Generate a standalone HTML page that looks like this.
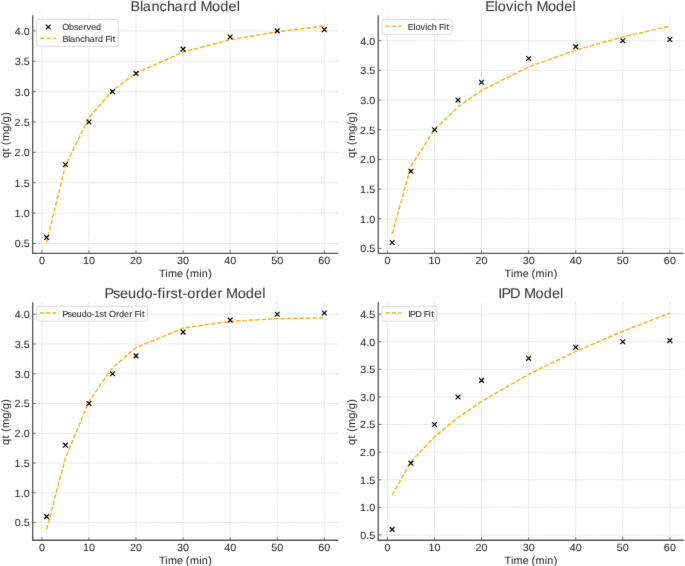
<!DOCTYPE html>
<html><head><meta charset="utf-8"><style>
html,body{margin:0;padding:0;background:#fff;}
svg{display:block;will-change:transform;text-rendering:geometricPrecision;font-family:"Liberation Sans",sans-serif;}
</style></head><body>
<svg width="685" height="566" viewBox="0 0 685 566">
<defs><filter id="bl" x="0" y="0" width="685" height="566" filterUnits="userSpaceOnUse" color-interpolation-filters="sRGB"><feConvolveMatrix order="3" kernelMatrix="0.00524 0.06192 0.00524 0.06192 0.73137 0.06192 0.00524 0.06192 0.00524" divisor="1" edgeMode="none"/></filter></defs>
<rect width="685" height="566" fill="#fff"/>
<g filter="url(#bl)">
<path d="M41.88 15.30V253.35M88.95 15.30V253.35M136.02 15.30V253.35M183.10 15.30V253.35M230.17 15.30V253.35M277.24 15.30V253.35M324.31 15.30V253.35M32.70 243.48H338.20M32.70 213.11H338.20M32.70 182.74H338.20M32.70 152.37H338.20M32.70 122.00H338.20M32.70 91.63H338.20M32.70 61.26H338.20M32.70 30.89H338.20" stroke="#d4d4d4" stroke-width="0.8" stroke-dasharray="1.6 0.95" fill="none"/>
<polyline points="46.59,242.53 65.42,165.59 88.95,117.61 112.49,90.53 136.02,73.13 183.10,52.09 230.17,39.82 277.24,31.79 324.31,26.12" stroke="#FFAA10" stroke-width="1.4" stroke-dasharray="4.44 1.92" fill="none"/>
<path d="M44.19 235.01L48.99 239.81M44.19 239.81L48.99 235.01M63.02 162.12L67.82 166.92M63.02 166.92L67.82 162.12M86.55 119.60L91.35 124.40M86.55 124.40L91.35 119.60M110.09 89.23L114.89 94.03M110.09 94.03L114.89 89.23M133.62 71.01L138.42 75.81M133.62 75.81L138.42 71.01M180.70 46.71L185.50 51.51M180.70 51.51L185.50 46.71M227.77 34.56L232.57 39.36M227.77 39.36L232.57 34.56M274.84 28.49L279.64 33.29M274.84 33.29L279.64 28.49M321.91 27.27L326.71 32.07M321.91 32.07L326.71 27.27" stroke="#000" stroke-width="1.2" fill="none"/>
<path d="M32.70 15.30V253.35H338.20" stroke="#555555" stroke-width="1.3" fill="none" stroke-linecap="butt" stroke-linejoin="miter"/>
<path d="M41.88 253.35v-3M88.95 253.35v-3M136.02 253.35v-3M183.10 253.35v-3M230.17 253.35v-3M277.24 253.35v-3M324.31 253.35v-3M32.70 243.48h3M32.70 213.11h3M32.70 182.74h3M32.70 152.37h3M32.70 122.00h3M32.70 91.63h3M32.70 61.26h3M32.70 30.89h3" stroke="#555555" stroke-width="0.8" fill="none"/>
<text x="-2.91" y="0" font-size="10.45" fill="#282828" stroke="#282828" stroke-width="0.06" transform="translate(41.88 264.35) scale(1.03 1)">0</text>
<text x="-5.90 0.03" y="0" font-size="10.45" fill="#282828" stroke="#282828" stroke-width="0.06" transform="translate(88.95 264.35) scale(1.03 1)">10</text>
<text x="-5.96 0.03" y="0" font-size="10.45" fill="#282828" stroke="#282828" stroke-width="0.06" transform="translate(136.02 264.35) scale(1.03 1)">20</text>
<text x="-5.83 0.03" y="0" font-size="10.45" fill="#282828" stroke="#282828" stroke-width="0.06" transform="translate(183.10 264.35) scale(1.03 1)">30</text>
<text x="-5.84 0.03" y="0" font-size="10.45" fill="#282828" stroke="#282828" stroke-width="0.06" transform="translate(230.17 264.35) scale(1.03 1)">40</text>
<text x="-5.88 0.03" y="0" font-size="10.45" fill="#282828" stroke="#282828" stroke-width="0.06" transform="translate(277.24 264.35) scale(1.03 1)">50</text>
<text x="-5.84 0.03" y="0" font-size="10.45" fill="#282828" stroke="#282828" stroke-width="0.06" transform="translate(324.31 264.35) scale(1.03 1)">60</text>
<text x="-14.64 -8.79 -5.88" y="0" font-size="10.45" fill="#282828" stroke="#282828" stroke-width="0.06" transform="translate(29.70 247.38) scale(1.03 1)">0.5</text>
<text x="-14.70 -8.79 -5.84" y="0" font-size="10.45" fill="#282828" stroke="#282828" stroke-width="0.06" transform="translate(29.70 217.01) scale(1.03 1)">1.0</text>
<text x="-14.70 -8.79 -5.88" y="0" font-size="10.45" fill="#282828" stroke="#282828" stroke-width="0.06" transform="translate(29.70 186.64) scale(1.03 1)">1.5</text>
<text x="-14.76 -8.79 -5.84" y="0" font-size="10.45" fill="#282828" stroke="#282828" stroke-width="0.06" transform="translate(29.70 156.27) scale(1.03 1)">2.0</text>
<text x="-14.76 -8.79 -5.88" y="0" font-size="10.45" fill="#282828" stroke="#282828" stroke-width="0.06" transform="translate(29.70 125.90) scale(1.03 1)">2.5</text>
<text x="-14.63 -8.79 -5.84" y="0" font-size="10.45" fill="#282828" stroke="#282828" stroke-width="0.06" transform="translate(29.70 95.53) scale(1.03 1)">3.0</text>
<text x="-14.63 -8.79 -5.88" y="0" font-size="10.45" fill="#282828" stroke="#282828" stroke-width="0.06" transform="translate(29.70 65.16) scale(1.03 1)">3.5</text>
<text x="-14.64 -8.79 -5.84" y="0" font-size="10.45" fill="#282828" stroke="#282828" stroke-width="0.06" transform="translate(29.70 34.79) scale(1.03 1)">4.0</text>
<text x="-25.70 -19.53 -16.92 -8.10 -2.33 0.39 4.38 13.38 15.86 22.03" y="0" font-size="10.51" fill="#282828" stroke="#282828" stroke-width="0.06" transform="translate(185.45 276.85) scale(1.03 1)">Time (min)</text>
<text x="-22.19 -15.84 -12.47 -9.70 -5.65 3.33 9.44 12.48 18.82" y="0" font-size="10.67" fill="#282828" stroke="#282828" stroke-width="0.06" transform="translate(9.20 135.23) rotate(-90) scale(1.03 1)">qt (mg/g)</text>
<text x="-53.43 -44.16 -41.36 -32.94 -25.23 -17.97 -10.57 -1.79 2.97 11.03 14.60 25.89 33.72 41.73 49.72" y="0" font-size="14.09" fill="#383838" stroke="#383838" stroke-width="0.06" transform="translate(185.45 10.90) scale(1.03 1)">Blanchard Model</text>
<rect x="36.60" y="19.40" width="81.73" height="27.00" rx="2" ry="2" fill="#fff" fill-opacity="0.8" stroke="#d0d0d0" stroke-width="0.8"/>
<path d="M45.80 24.55L50.60 29.35M45.80 29.35L50.60 24.55" stroke="#000" stroke-width="1.2"/>
<text x="-0.36 6.17 10.92 15.05 20.13 23.16 27.62 32.42" y="0" font-size="8.80" fill="#282828" stroke="#282828" stroke-width="0.06" transform="translate(62.70 29.90) scale(1.03 1)">Observed</text>
<path d="M39.80 38.40H56.00" stroke="#FFAA10" stroke-width="1.4" stroke-dasharray="4.44 1.92"/>
<text x="-0.29 5.43 7.11 12.28 17.01 21.46 25.99 31.39 34.29 39.26 41.23 46.29 48.62" y="0" font-size="8.80" fill="#282828" stroke="#282828" stroke-width="0.06" transform="translate(62.70 41.75) scale(1.03 1)">Blanchard Fit</text>
<path d="M387.43 15.30V253.35M434.50 15.30V253.35M481.57 15.30V253.35M528.65 15.30V253.35M575.72 15.30V253.35M622.79 15.30V253.35M669.86 15.30V253.35M378.25 248.47H683.75M378.25 218.79H683.75M378.25 189.11H683.75M378.25 159.43H683.75M378.25 129.75H683.75M378.25 100.07H683.75M378.25 70.39H683.75M378.25 40.71H683.75" stroke="#d4d4d4" stroke-width="0.8" stroke-dasharray="1.6 0.95" fill="none"/>
<polyline points="392.14,234.03 410.97,166.36 434.50,129.54 458.04,106.86 481.57,90.43 528.65,66.93 575.72,50.07 622.79,36.91 669.86,26.12" stroke="#FFAA10" stroke-width="1.4" stroke-dasharray="4.44 1.92" fill="none"/>
<path d="M389.74 240.13L394.54 244.93M389.74 244.93L394.54 240.13M408.57 168.90L413.37 173.70M408.57 173.70L413.37 168.90M432.10 127.35L436.90 132.15M432.10 132.15L436.90 127.35M455.64 97.67L460.44 102.47M455.64 102.47L460.44 97.67M479.17 79.86L483.97 84.66M479.17 84.66L483.97 79.86M526.25 56.12L531.05 60.92M526.25 60.92L531.05 56.12M573.32 44.25L578.12 49.05M573.32 49.05L578.12 44.25M620.39 38.31L625.19 43.11M620.39 43.11L625.19 38.31M667.46 37.12L672.26 41.92M667.46 41.92L672.26 37.12" stroke="#000" stroke-width="1.2" fill="none"/>
<path d="M378.25 15.30V253.35H683.75" stroke="#555555" stroke-width="1.3" fill="none" stroke-linecap="butt" stroke-linejoin="miter"/>
<path d="M387.43 253.35v-3M434.50 253.35v-3M481.57 253.35v-3M528.65 253.35v-3M575.72 253.35v-3M622.79 253.35v-3M669.86 253.35v-3M378.25 248.47h3M378.25 218.79h3M378.25 189.11h3M378.25 159.43h3M378.25 129.75h3M378.25 100.07h3M378.25 70.39h3M378.25 40.71h3" stroke="#555555" stroke-width="0.8" fill="none"/>
<text x="-2.91" y="0" font-size="10.45" fill="#282828" stroke="#282828" stroke-width="0.06" transform="translate(387.43 264.35) scale(1.03 1)">0</text>
<text x="-5.90 0.03" y="0" font-size="10.45" fill="#282828" stroke="#282828" stroke-width="0.06" transform="translate(434.50 264.35) scale(1.03 1)">10</text>
<text x="-5.96 0.03" y="0" font-size="10.45" fill="#282828" stroke="#282828" stroke-width="0.06" transform="translate(481.57 264.35) scale(1.03 1)">20</text>
<text x="-5.83 0.03" y="0" font-size="10.45" fill="#282828" stroke="#282828" stroke-width="0.06" transform="translate(528.65 264.35) scale(1.03 1)">30</text>
<text x="-5.84 0.03" y="0" font-size="10.45" fill="#282828" stroke="#282828" stroke-width="0.06" transform="translate(575.72 264.35) scale(1.03 1)">40</text>
<text x="-5.88 0.03" y="0" font-size="10.45" fill="#282828" stroke="#282828" stroke-width="0.06" transform="translate(622.79 264.35) scale(1.03 1)">50</text>
<text x="-5.84 0.03" y="0" font-size="10.45" fill="#282828" stroke="#282828" stroke-width="0.06" transform="translate(669.86 264.35) scale(1.03 1)">60</text>
<text x="-14.64 -8.79 -5.88" y="0" font-size="10.45" fill="#282828" stroke="#282828" stroke-width="0.06" transform="translate(375.25 252.37) scale(1.03 1)">0.5</text>
<text x="-14.70 -8.79 -5.84" y="0" font-size="10.45" fill="#282828" stroke="#282828" stroke-width="0.06" transform="translate(375.25 222.69) scale(1.03 1)">1.0</text>
<text x="-14.70 -8.79 -5.88" y="0" font-size="10.45" fill="#282828" stroke="#282828" stroke-width="0.06" transform="translate(375.25 193.01) scale(1.03 1)">1.5</text>
<text x="-14.76 -8.79 -5.84" y="0" font-size="10.45" fill="#282828" stroke="#282828" stroke-width="0.06" transform="translate(375.25 163.33) scale(1.03 1)">2.0</text>
<text x="-14.76 -8.79 -5.88" y="0" font-size="10.45" fill="#282828" stroke="#282828" stroke-width="0.06" transform="translate(375.25 133.65) scale(1.03 1)">2.5</text>
<text x="-14.63 -8.79 -5.84" y="0" font-size="10.45" fill="#282828" stroke="#282828" stroke-width="0.06" transform="translate(375.25 103.97) scale(1.03 1)">3.0</text>
<text x="-14.63 -8.79 -5.88" y="0" font-size="10.45" fill="#282828" stroke="#282828" stroke-width="0.06" transform="translate(375.25 74.29) scale(1.03 1)">3.5</text>
<text x="-14.64 -8.79 -5.84" y="0" font-size="10.45" fill="#282828" stroke="#282828" stroke-width="0.06" transform="translate(375.25 44.61) scale(1.03 1)">4.0</text>
<text x="-25.70 -19.53 -16.92 -8.10 -2.33 0.39 4.38 13.38 15.86 22.03" y="0" font-size="10.51" fill="#282828" stroke="#282828" stroke-width="0.06" transform="translate(531.00 276.85) scale(1.03 1)">Time (min)</text>
<text x="-22.19 -15.84 -12.47 -9.70 -5.65 3.33 9.44 12.48 18.82" y="0" font-size="10.67" fill="#282828" stroke="#282828" stroke-width="0.06" transform="translate(354.75 135.23) rotate(-90) scale(1.03 1)">qt (mg/g)</text>
<text x="-44.44 -35.48 -32.19 -24.18 -16.70 -13.58 -6.32 1.67 5.24 16.53 24.36 32.37 40.35" y="0" font-size="14.09" fill="#383838" stroke="#383838" stroke-width="0.06" transform="translate(531.00 10.90) scale(1.03 1)">Elovich Model</text>
<rect x="382.15" y="19.40" width="69.90" height="14.85" rx="2" ry="2" fill="#fff" fill-opacity="0.8" stroke="#d0d0d0" stroke-width="0.8"/>
<path d="M385.35 26.15H401.55" stroke="#FFAA10" stroke-width="1.4" stroke-dasharray="4.44 1.92"/>
<text x="-0.52 5.01 7.00 11.92 16.52 18.41 22.86 27.78 29.75 34.81 37.14" y="0" font-size="8.80" fill="#282828" stroke="#282828" stroke-width="0.06" transform="translate(408.25 29.60) scale(1.03 1)">Elovich Fit</text>
<path d="M41.88 302.20V540.25M88.95 302.20V540.25M136.02 302.20V540.25M183.10 302.20V540.25M230.17 302.20V540.25M277.24 302.20V540.25M324.31 302.20V540.25M32.70 522.58H338.20M32.70 492.81H338.20M32.70 463.04H338.20M32.70 433.28H338.20M32.70 403.51H338.20M32.70 373.74H338.20M32.70 343.98H338.20M32.70 314.21H338.20" stroke="#d4d4d4" stroke-width="0.8" stroke-dasharray="1.6 0.95" fill="none"/>
<polyline points="46.59,529.43 65.42,458.05 88.95,401.59 112.49,367.80 136.02,347.56 183.10,328.19 230.17,321.25 277.24,318.76 324.31,317.87" stroke="#FFAA10" stroke-width="1.4" stroke-dasharray="4.44 1.92" fill="none"/>
<path d="M44.19 514.22L48.99 519.02M44.19 519.02L48.99 514.22M63.02 442.78L67.82 447.58M63.02 447.58L67.82 442.78M86.55 401.11L91.35 405.91M86.55 405.91L91.35 401.11M110.09 371.34L114.89 376.14M110.09 376.14L114.89 371.34M133.62 353.48L138.42 358.28M133.62 358.28L138.42 353.48M180.70 329.67L185.50 334.47M180.70 334.47L185.50 329.67M227.77 317.76L232.57 322.56M227.77 322.56L232.57 317.76M274.84 311.81L279.64 316.61M274.84 316.61L279.64 311.81M321.91 310.62L326.71 315.42M321.91 315.42L326.71 310.62" stroke="#000" stroke-width="1.2" fill="none"/>
<path d="M32.70 302.20V540.25H338.20" stroke="#555555" stroke-width="1.3" fill="none" stroke-linecap="butt" stroke-linejoin="miter"/>
<path d="M41.88 540.25v-3M88.95 540.25v-3M136.02 540.25v-3M183.10 540.25v-3M230.17 540.25v-3M277.24 540.25v-3M324.31 540.25v-3M32.70 522.58h3M32.70 492.81h3M32.70 463.04h3M32.70 433.28h3M32.70 403.51h3M32.70 373.74h3M32.70 343.98h3M32.70 314.21h3" stroke="#555555" stroke-width="0.8" fill="none"/>
<text x="-2.91" y="0" font-size="10.45" fill="#282828" stroke="#282828" stroke-width="0.06" transform="translate(41.88 551.25) scale(1.03 1)">0</text>
<text x="-5.90 0.03" y="0" font-size="10.45" fill="#282828" stroke="#282828" stroke-width="0.06" transform="translate(88.95 551.25) scale(1.03 1)">10</text>
<text x="-5.96 0.03" y="0" font-size="10.45" fill="#282828" stroke="#282828" stroke-width="0.06" transform="translate(136.02 551.25) scale(1.03 1)">20</text>
<text x="-5.83 0.03" y="0" font-size="10.45" fill="#282828" stroke="#282828" stroke-width="0.06" transform="translate(183.10 551.25) scale(1.03 1)">30</text>
<text x="-5.84 0.03" y="0" font-size="10.45" fill="#282828" stroke="#282828" stroke-width="0.06" transform="translate(230.17 551.25) scale(1.03 1)">40</text>
<text x="-5.88 0.03" y="0" font-size="10.45" fill="#282828" stroke="#282828" stroke-width="0.06" transform="translate(277.24 551.25) scale(1.03 1)">50</text>
<text x="-5.84 0.03" y="0" font-size="10.45" fill="#282828" stroke="#282828" stroke-width="0.06" transform="translate(324.31 551.25) scale(1.03 1)">60</text>
<text x="-14.64 -8.79 -5.88" y="0" font-size="10.45" fill="#282828" stroke="#282828" stroke-width="0.06" transform="translate(29.70 526.48) scale(1.03 1)">0.5</text>
<text x="-14.70 -8.79 -5.84" y="0" font-size="10.45" fill="#282828" stroke="#282828" stroke-width="0.06" transform="translate(29.70 496.71) scale(1.03 1)">1.0</text>
<text x="-14.70 -8.79 -5.88" y="0" font-size="10.45" fill="#282828" stroke="#282828" stroke-width="0.06" transform="translate(29.70 466.94) scale(1.03 1)">1.5</text>
<text x="-14.76 -8.79 -5.84" y="0" font-size="10.45" fill="#282828" stroke="#282828" stroke-width="0.06" transform="translate(29.70 437.18) scale(1.03 1)">2.0</text>
<text x="-14.76 -8.79 -5.88" y="0" font-size="10.45" fill="#282828" stroke="#282828" stroke-width="0.06" transform="translate(29.70 407.41) scale(1.03 1)">2.5</text>
<text x="-14.63 -8.79 -5.84" y="0" font-size="10.45" fill="#282828" stroke="#282828" stroke-width="0.06" transform="translate(29.70 377.64) scale(1.03 1)">3.0</text>
<text x="-14.63 -8.79 -5.88" y="0" font-size="10.45" fill="#282828" stroke="#282828" stroke-width="0.06" transform="translate(29.70 347.88) scale(1.03 1)">3.5</text>
<text x="-14.64 -8.79 -5.84" y="0" font-size="10.45" fill="#282828" stroke="#282828" stroke-width="0.06" transform="translate(29.70 318.11) scale(1.03 1)">4.0</text>
<text x="-25.70 -19.53 -16.92 -8.10 -2.33 0.39 4.38 13.38 15.86 22.03" y="0" font-size="10.51" fill="#282828" stroke="#282828" stroke-width="0.06" transform="translate(185.45 563.75) scale(1.03 1)">Time (min)</text>
<text x="-22.19 -15.84 -12.47 -9.70 -5.65 3.33 9.44 12.48 18.82" y="0" font-size="10.67" fill="#282828" stroke="#282828" stroke-width="0.06" transform="translate(9.20 422.12) rotate(-90) scale(1.03 1)">qt (mg/g)</text>
<text x="-78.60 -70.41 -63.67 -55.81 -47.82 -39.85 -32.12 -27.06 -22.83 -19.02 -14.43 -7.21 -2.79 1.80 10.08 14.84 22.85 31.12 35.91 39.48 50.77 58.60 66.61 74.59" y="0" font-size="14.09" fill="#383838" stroke="#383838" stroke-width="0.06" transform="translate(185.45 297.80) scale(1.03 1)">Pseudo-first-order Model</text>
<rect x="36.60" y="306.30" width="110.96" height="14.85" rx="2" ry="2" fill="#fff" fill-opacity="0.8" stroke="#d0d0d0" stroke-width="0.8"/>
<path d="M39.80 313.05H56.00" stroke="#FFAA10" stroke-width="1.4" stroke-dasharray="4.44 1.92"/>
<text x="-0.47 4.56 8.69 13.51 18.41 23.29 28.05 30.89 35.74 40.18 42.96 45.06 51.80 54.70 59.61 64.70 67.64 69.61 74.67 77.00" y="0" font-size="8.80" fill="#282828" stroke="#282828" stroke-width="0.06" transform="translate(62.70 316.50) scale(1.03 1)">Pseudo-1st Order Fit</text>
<path d="M387.43 302.20V540.25M434.50 302.20V540.25M481.57 302.20V540.25M528.65 302.20V540.25M575.72 302.20V540.25M622.79 302.20V540.25M669.86 302.20V540.25M378.25 534.95H683.75M378.25 507.35H683.75M378.25 479.75H683.75M378.25 452.15H683.75M378.25 424.55H683.75M378.25 396.95H683.75M378.25 369.35H683.75M378.25 341.74H683.75M378.25 314.14H683.75" stroke="#d4d4d4" stroke-width="0.8" stroke-dasharray="1.6 0.95" fill="none"/>
<polyline points="392.14,495.11 410.97,461.75 434.50,436.74 458.04,417.56 481.57,401.39 528.65,374.26 575.72,351.39 622.79,331.24 669.86,313.02" stroke="#FFAA10" stroke-width="1.4" stroke-dasharray="4.44 1.92" fill="none"/>
<path d="M389.74 527.03L394.54 531.83M389.74 531.83L394.54 527.03M408.57 460.79L413.37 465.59M408.57 465.59L413.37 460.79M432.10 422.15L436.90 426.95M432.10 426.95L436.90 422.15M455.64 394.55L460.44 399.35M455.64 399.35L460.44 394.55M479.17 377.99L483.97 382.79M479.17 382.79L483.97 377.99M526.25 355.91L531.05 360.71M526.25 360.71L531.05 355.91M573.32 344.87L578.12 349.67M573.32 349.67L578.12 344.87M620.39 339.34L625.19 344.14M620.39 344.14L625.19 339.34M667.46 338.24L672.26 343.04M667.46 343.04L672.26 338.24" stroke="#000" stroke-width="1.2" fill="none"/>
<path d="M378.25 302.20V540.25H683.75" stroke="#555555" stroke-width="1.3" fill="none" stroke-linecap="butt" stroke-linejoin="miter"/>
<path d="M387.43 540.25v-3M434.50 540.25v-3M481.57 540.25v-3M528.65 540.25v-3M575.72 540.25v-3M622.79 540.25v-3M669.86 540.25v-3M378.25 534.95h3M378.25 507.35h3M378.25 479.75h3M378.25 452.15h3M378.25 424.55h3M378.25 396.95h3M378.25 369.35h3M378.25 341.74h3M378.25 314.14h3" stroke="#555555" stroke-width="0.8" fill="none"/>
<text x="-2.91" y="0" font-size="10.45" fill="#282828" stroke="#282828" stroke-width="0.06" transform="translate(387.43 551.25) scale(1.03 1)">0</text>
<text x="-5.90 0.03" y="0" font-size="10.45" fill="#282828" stroke="#282828" stroke-width="0.06" transform="translate(434.50 551.25) scale(1.03 1)">10</text>
<text x="-5.96 0.03" y="0" font-size="10.45" fill="#282828" stroke="#282828" stroke-width="0.06" transform="translate(481.57 551.25) scale(1.03 1)">20</text>
<text x="-5.83 0.03" y="0" font-size="10.45" fill="#282828" stroke="#282828" stroke-width="0.06" transform="translate(528.65 551.25) scale(1.03 1)">30</text>
<text x="-5.84 0.03" y="0" font-size="10.45" fill="#282828" stroke="#282828" stroke-width="0.06" transform="translate(575.72 551.25) scale(1.03 1)">40</text>
<text x="-5.88 0.03" y="0" font-size="10.45" fill="#282828" stroke="#282828" stroke-width="0.06" transform="translate(622.79 551.25) scale(1.03 1)">50</text>
<text x="-5.84 0.03" y="0" font-size="10.45" fill="#282828" stroke="#282828" stroke-width="0.06" transform="translate(669.86 551.25) scale(1.03 1)">60</text>
<text x="-14.64 -8.79 -5.88" y="0" font-size="10.45" fill="#282828" stroke="#282828" stroke-width="0.06" transform="translate(375.25 538.85) scale(1.03 1)">0.5</text>
<text x="-14.70 -8.79 -5.84" y="0" font-size="10.45" fill="#282828" stroke="#282828" stroke-width="0.06" transform="translate(375.25 511.25) scale(1.03 1)">1.0</text>
<text x="-14.70 -8.79 -5.88" y="0" font-size="10.45" fill="#282828" stroke="#282828" stroke-width="0.06" transform="translate(375.25 483.65) scale(1.03 1)">1.5</text>
<text x="-14.76 -8.79 -5.84" y="0" font-size="10.45" fill="#282828" stroke="#282828" stroke-width="0.06" transform="translate(375.25 456.05) scale(1.03 1)">2.0</text>
<text x="-14.76 -8.79 -5.88" y="0" font-size="10.45" fill="#282828" stroke="#282828" stroke-width="0.06" transform="translate(375.25 428.45) scale(1.03 1)">2.5</text>
<text x="-14.63 -8.79 -5.84" y="0" font-size="10.45" fill="#282828" stroke="#282828" stroke-width="0.06" transform="translate(375.25 400.85) scale(1.03 1)">3.0</text>
<text x="-14.63 -8.79 -5.88" y="0" font-size="10.45" fill="#282828" stroke="#282828" stroke-width="0.06" transform="translate(375.25 373.25) scale(1.03 1)">3.5</text>
<text x="-14.64 -8.79 -5.84" y="0" font-size="10.45" fill="#282828" stroke="#282828" stroke-width="0.06" transform="translate(375.25 345.64) scale(1.03 1)">4.0</text>
<text x="-14.64 -8.79 -5.88" y="0" font-size="10.45" fill="#282828" stroke="#282828" stroke-width="0.06" transform="translate(375.25 318.04) scale(1.03 1)">4.5</text>
<text x="-25.70 -19.53 -16.92 -8.10 -2.33 0.39 4.38 13.38 15.86 22.03" y="0" font-size="10.51" fill="#282828" stroke="#282828" stroke-width="0.06" transform="translate(531.00 563.75) scale(1.03 1)">Time (min)</text>
<text x="-22.19 -15.84 -12.47 -9.70 -5.65 3.33 9.44 12.48 18.82" y="0" font-size="10.67" fill="#282828" stroke="#282828" stroke-width="0.06" transform="translate(354.75 422.12) rotate(-90) scale(1.03 1)">qt (mg/g)</text>
<text x="-31.69 -28.55 -20.43 -10.41 -6.84 4.45 12.28 20.29 28.27" y="0" font-size="14.09" fill="#383838" stroke="#383838" stroke-width="0.06" transform="translate(531.00 297.80) scale(1.03 1)">IPD Model</text>
<rect x="382.15" y="306.30" width="54.65" height="14.85" rx="2" ry="2" fill="#fff" fill-opacity="0.8" stroke="#d0d0d0" stroke-width="0.8"/>
<path d="M385.35 313.05H401.55" stroke="#FFAA10" stroke-width="1.4" stroke-dasharray="4.44 1.92"/>
<text x="-0.08 1.82 6.79 12.97 14.94 20.00 22.33" y="0" font-size="8.80" fill="#282828" stroke="#282828" stroke-width="0.06" transform="translate(408.25 316.50) scale(1.03 1)">IPD Fit</text>
</g>
</svg>
</body></html>
